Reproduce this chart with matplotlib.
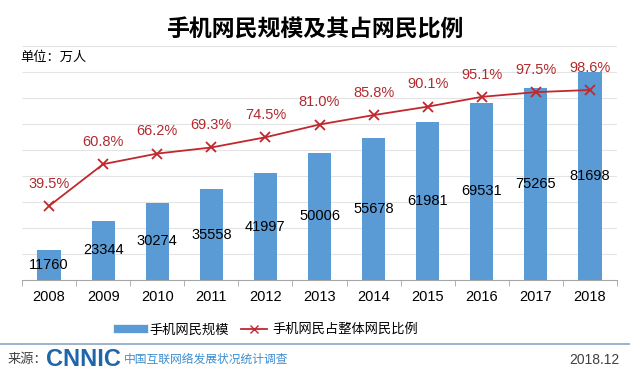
import matplotlib
matplotlib.use("Agg")
import matplotlib.pyplot as plt
from matplotlib.lines import Line2D
import numpy as np

plt.rcParams['font.family'] = ['Liberation Sans', 'Noto Sans CJK SC', 'DejaVu Sans']

years = ['2008', '2009', '2010', '2011', '2012', '2013', '2014', '2015', '2016', '2017', '2018']
users = [11760, 23344, 30274, 35558, 41997, 50006, 55678, 61981, 69531, 75265, 81698]
share = [39.5, 60.8, 66.2, 69.3, 74.5, 81.0, 85.8, 90.1, 95.1, 97.5, 98.6]

bar_color = '#5B9BD5'
line_color = '#C0282D'
label_red = '#B22A2E'

fig = plt.figure(figsize=(6.3, 3.76), dpi=100)
ax = fig.add_axes([22 / 630, 96 / 376, 595 / 630, 234 / 376])
x = np.arange(len(years))

ax.bar(x, users, width=0.43, color=bar_color, zorder=2)
ax.set_xlim(-0.5, len(years) - 0.5)
ax.set_ylim(0, 91900)
grid_y = np.arange(10200, 91900, 10200)
ax.hlines(grid_y, -0.5, len(years) - 0.5, colors='#e4e4e4', linewidth=0.8, zorder=0)
ax.set_yticks([])
for s in ['top', 'right', 'left']:
    ax.spines[s].set_visible(False)
ax.spines['bottom'].set_color('#a6a6a6')
ax.set_xticks(x)
ax.set_xticklabels(years, fontsize=10.5)
ax.tick_params(axis='x', length=0, pad=7)
ax.set_xticks(np.arange(-0.5, len(years), 1), minor=True)
ax.tick_params(axis='x', which='minor', length=4, color='#a6a6a6')

for xi, v in zip(x, users):
    ax.text(xi, v / 2, str(v), ha='center', va='center', fontsize=10.5, color='black', zorder=3)

ax2 = ax.twinx()
ax2.set_ylim(1.8, 121)
ax2.axis('off')
ax2.plot(x, share, color=line_color, linewidth=1.3, marker='x', markersize=7,
         markeredgewidth=1.3, zorder=4)
for xi, v in zip(x, share):
    ax2.annotate(f'{v:.1f}%', (xi, v), xytext=(0, 16), textcoords='offset points',
                 ha='center', va='center', fontsize=10.5, color=label_red)

fig.text(0.5, 1 - 30 / 376, '手机网民规模及其占网民比例', ha='center', va='center',
         fontsize=16.5, fontweight='bold', color='black')
fig.text(20 / 630, 1 - 58 / 376, '单位：万人', ha='left', va='center', fontsize=9.5, color='black')

handles = [Line2D([0], [0], color=bar_color, linewidth=6),
           Line2D([0], [0], color=line_color, marker='x', markersize=6, linewidth=1.3)]
fig.legend(handles, ['手机网民规模', '手机网民占整体网民比例'], loc='center',
           bbox_to_anchor=(268 / 630, 1 - 330 / 376), ncol=2, frameon=False, fontsize=9.5,
           handlelength=2.0, columnspacing=0.9, handletextpad=0.4)

fig.add_artist(Line2D([0, 1], [1 - 344 / 376] * 2, color='#8aa5c2', linewidth=1.2))
fig.text(8 / 630, 1 - 360 / 376, '来源：', ha='left', va='center', fontsize=9.5, color='#404040')
fig.text(46 / 630, 1 - 359 / 376, 'CNNIC', ha='left', va='center', fontsize=17,
         fontweight='bold', color='#1f66a8', family='Liberation Sans')
fig.text(124 / 630, 1 - 360 / 376, '中国互联网络发展状况统计调查', ha='left', va='center',
         fontsize=8.5, color='#3d8fd1')
fig.text(620 / 630, 1 - 360 / 376, '2018.12', ha='right', va='center', fontsize=10, color='#404040')

fig.savefig('out.png', dpi=100)
